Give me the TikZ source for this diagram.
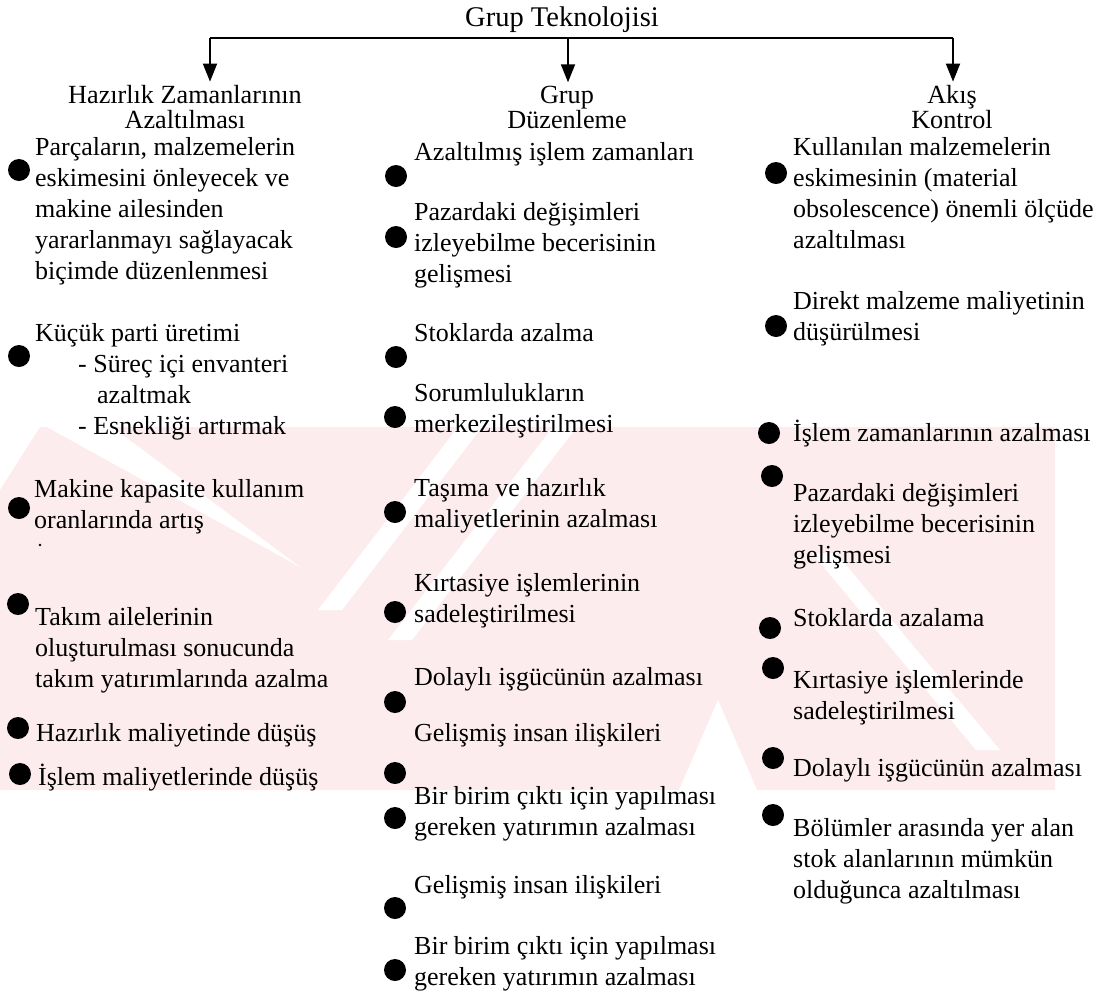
\documentclass[tikz,border=0pt]{standalone}
\usepackage{fontspec}
\setmainfont{Liberation Serif}
\usetikzlibrary{arrows.meta}
\definecolor{wmpink}{RGB}{253,236,238}
% multi-line blocks whose reference point is the first baseline
\newcommand{\lblock}[1]{\begin{tabular}[t]{@{}l@{}}#1\end{tabular}}
\newcommand{\cblock}[1]{\begin{tabular}[t]{@{}c@{}}#1\end{tabular}}
\begin{document}
\begin{tikzpicture}[x=1pt,y=-1pt,
  txt/.style={anchor=base west, inner sep=0pt,
    font=\fontsize{26}{31}\selectfont},
  head/.style={anchor=base, inner sep=0pt,
    font=\fontsize{26.2}{25}\selectfont},
  bul/.style={circle, fill=black, inner sep=0pt, minimum size=22pt},
  link/.style={line width=1.8pt},
  arr/.style={link, -{Triangle[length=18pt,width=14pt]}},
  gap/.style={fill=white}]
\useasboundingbox (0,0) rectangle (1117,997);

% pale background emblem behind the lists
\fill[wmpink] (40,427) -- (1055,427) -- (1055,790) -- (0,790) -- (0,490) -- cycle;
\fill[gap] (47,427) -- (112,427) -- (300,567) -- cycle;
\fill[gap] (458,427) -- (482,427) -- (342,610) -- (318,610) -- cycle;
\fill[gap] (553,427) -- (577,427) -- (412,640) -- (388,640) -- cycle;
\fill[gap] (718,700) -- (757,790) -- (679,790) -- cycle;
\fill[gap] (812,553) -- (836,553) -- (1000,750) -- (976,750) -- cycle;

% title and the three branches
\node[head, font=\fontsize{28.5}{30}\selectfont] (top) at (562,26) {Grup Teknolojisi};
\node[head] (h1) at (185,103) {\cblock{Hazırlık Zamanlarının\\Azaltılması}};
\node[head] (h2) at (567,103) {\cblock{Grup\\Düzenleme}};
\node[head] (h3) at (952,103) {\cblock{Akış\\Kontrol}};
\coordinate (b1) at (210,38);
\coordinate (b2) at (568,38);
\coordinate (b3) at (953,38);
\draw[link] (b1) -- (b3);
\draw[arr] (b1) -- ([yshift=3pt]b1 |- h1.north);
\draw[arr] (b2) -- ([yshift=3pt]b2 |- h2.north);
\draw[arr] (b3) -- ([yshift=3pt]b3 |- h3.north);

% left column
\node[txt] (l1) at (35,155) {\lblock{Parçaların, malzemelerin\\eskimesini önleyecek ve\\makine ailesinden\\yararlanmayı sağlayacak\\biçimde düzenlenmesi}};
\node[txt] (l2) at (35,341) {\lblock{Küçük parti üretimi\\\hspace*{43pt}- Süreç içi envanteri\\\hspace*{62pt}azaltmak\\\hspace*{43pt}- Esnekliği artırmak}};
\node[txt] (l3) at (34,497) {\lblock{Makine kapasite kullanım\\oranlarında artış}};
\node[txt] (l4) at (35,625) {\lblock{Takım ailelerinin\\oluşturulması sonucunda\\takım yatırımlarında azalma}};
\node[txt] (l5) at (36,741) {Hazırlık maliyetinde düşüş};
\node[txt] (l6) at (38,785) {İşlem maliyetlerinde düşüş};
\node[bul] (dl1) at (19,170) {};
\node[bul] (dl2) at (19,356) {};
\node[bul] (dl3) at (19,508) {};
\node[bul] (dl4) at (18,604) {};
\node[bul] (dl5) at (18,728) {};
\node[bul] (dl6) at (20,774) {};
\fill (40,545) circle (1.3pt);

% middle column
\node[txt] (m1) at (414,160) {Azaltılmış işlem zamanları};
\node[txt] (m2) at (414,220) {\lblock{Pazardaki değişimleri\\izleyebilme becerisinin\\gelişmesi}};
\node[txt] (m3) at (414,341) {Stoklarda azalma};
\node[txt] (m4) at (414,401) {\lblock{Sorumlulukların\\merkezileştirilmesi}};
\node[txt] (m5) at (414,496) {\lblock{Taşıma ve hazırlık\\maliyetlerinin azalması}};
\node[txt] (m6) at (414,591) {\lblock{Kırtasiye işlemlerinin\\sadeleştirilmesi}};
\node[txt] (m7) at (414,685) {Dolaylı işgücünün azalması};
\node[txt] (m8) at (414,741) {Gelişmiş insan ilişkileri};
\node[txt] (m9) at (414,804) {\lblock{Bir birim çıktı için yapılması\\gereken yatırımın azalması}};
\node[txt] (m10) at (414,893) {Gelişmiş insan ilişkileri};
\node[txt] (m11) at (414,954) {\lblock{Bir birim çıktı için yapılması\\gereken yatırımın azalması}};
\node[bul] (dm1) at (396,176) {};
\node[bul] (dm2) at (396,237) {};
\node[bul] (dm3) at (396,357) {};
\node[bul] (dm4) at (395,417) {};
\node[bul] (dm5) at (395,512) {};
\node[bul] (dm6) at (395,612) {};
\node[bul] (dm7) at (395,702) {};
\node[bul] (dm8) at (395,773) {};
\node[bul] (dm9) at (395,818) {};
\node[bul] (dm10) at (395,908) {};
\node[bul] (dm11) at (395,970) {};

% right column
\node[txt] (r1) at (793,155) {\lblock{Kullanılan malzemelerin\\eskimesinin (material\\obsolescence) önemli ölçüde\\azaltılması}};
\node[txt] (r2) at (793,309) {\lblock{Direkt malzeme maliyetinin\\düşürülmesi}};
\node[txt] (r3) at (793,441) {İşlem zamanlarının azalması};
\node[txt] (r4) at (793,501) {\lblock{Pazardaki değişimleri\\izleyebilme becerisinin\\gelişmesi}};
\node[txt] (r5) at (793,626) {Stoklarda azalama};
\node[txt] (r6) at (793,688) {\lblock{Kırtasiye işlemlerinde\\sadeleştirilmesi}};
\node[txt] (r7) at (793,776) {Dolaylı işgücünün azalması};
\node[txt] (r8) at (793,836) {\lblock{Bölümler arasında yer alan\\stok alanlarının mümkün\\olduğunca azaltılması}};
\node[bul] (dr1) at (776,173) {};
\node[bul] (dr2) at (776,326) {};
\node[bul] (dr3) at (769,433) {};
\node[bul] (dr4) at (772,476) {};
\node[bul] (dr5) at (770,628) {};
\node[bul] (dr6) at (773,668) {};
\node[bul] (dr7) at (773,758) {};
\node[bul] (dr8) at (773,815) {};
\end{tikzpicture}
\end{document}
